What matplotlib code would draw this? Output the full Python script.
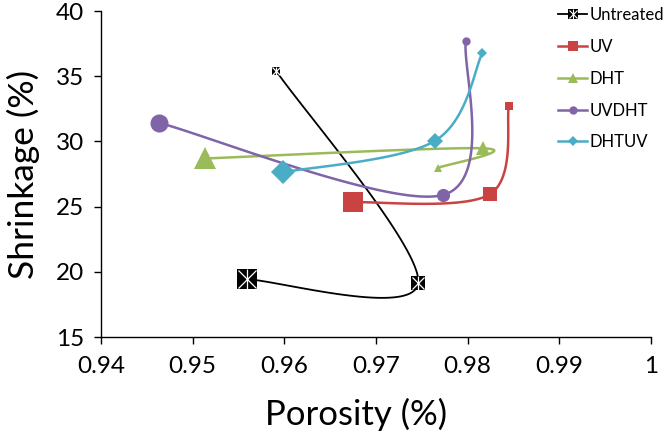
import numpy as np
import matplotlib
matplotlib.use("Agg")
import matplotlib.pyplot as plt
from matplotlib.lines import Line2D
from matplotlib.legend_handler import HandlerTuple

plt.rcParams['font.family'] = ['Lato', 'DejaVu Sans']

series_names = ["Untreated", "UV", "DHT", "UVDHT", "DHTUV"]
untreated_x = [0.9559, 0.9746, 0.9591]
untreated_y = [19.43, 19.12, 35.42]
uv_x = [0.9675, 0.9824, 0.9845]
uv_y = [25.33, 25.94, 32.71]
dht_x = [0.9513, 0.9817, 0.9768]
dht_y = [28.69, 29.47, 27.98]
uvdht_x = [0.9463, 0.9773, 0.9798]
uvdht_y = [31.43, 25.89, 37.68]
dhtuv_x = [0.9599, 0.9764, 0.9816]
dhtuv_y = [27.63, 30.03, 36.76]

xticks = [0.94, 0.95, 0.96, 0.97, 0.98, 0.99, 1.0]
xtick_labels = ["0.94", "0.95", "0.96", "0.97", "0.98", "0.99", "1"]
yticks = [15, 20, 25, 30, 35, 40]

colors = ["#000000", "#C94342", "#9BBB59", "#8064A8", "#4BACC6"]
markers = ["s", "s", "^", "o", "D"]
sizes = {
    "s": [14.5, 10.0, 6.3],
    "^": [15.5, 10.0, 6.0],
    "o": [13.0, 9.5, 6.0],
    "D": [12.0, 8.5, 5.0],
}
lws = [1.3, 1.8, 1.8, 1.8, 1.8]


def smooth(xs, ys, n=60):
    P = np.column_stack([xs, ys]).astype(float)
    out = []
    m = len(P)
    for i in range(m - 1):
        p0 = P[i]
        p3 = P[i + 1]
        prev = P[i - 1] if i > 0 else P[i]
        nxt = P[i + 2] if i + 2 < m else P[i + 1]
        c1 = p0 + (p3 - prev) / 6.0
        c2 = p3 - (nxt - p0) / 6.0
        t = np.linspace(0, 1, n)[:, None]
        seg = ((1 - t) ** 3) * p0 + 3 * ((1 - t) ** 2) * t * c1 + 3 * (1 - t) * t ** 2 * c2 + t ** 3 * p3
        if i > 0:
            seg = seg[1:]
        out.append(seg)
    out = np.vstack(out)
    return out[:, 0], out[:, 1]


fig = plt.figure(figsize=(6.66, 4.33), dpi=100)
ax = fig.add_axes([101 / 666, 1 - 337 / 433, 550 / 666, 326 / 433])

data = [(untreated_x, untreated_y), (uv_x, uv_y), (dht_x, dht_y),
        (uvdht_x, uvdht_y), (dhtuv_x, dhtuv_y)]

handles = []
for k, (xs, ys) in enumerate(data):
    c = colors[k]
    mk = markers[k]
    sx, sy = smooth(xs, ys)
    ax.plot(sx, sy, color=c, lw=lws[k], zorder=2 + k * 2, solid_capstyle='round')
    for j in range(len(xs)):
        ms = sizes[mk][j]
        ax.plot([xs[j]], [ys[j]], marker=mk, ms=ms, color=c, mec=c, mew=0,
                ls='none', zorder=3 + k * 2)
        if k == 0:
            ax.plot([xs[j]], [ys[j]], marker='x', ms=ms * 0.85, color='white',
                    mew=0.9, ls='none', zorder=3 + k * 2)
            ax.plot([xs[j]], [ys[j]], marker='|', ms=ms * 0.95, color='white',
                    mew=0.9, ls='none', zorder=3 + k * 2)
    if k == 0:
        h1 = Line2D([], [], color=c, lw=lws[k], marker='s', ms=7, mew=0)
        h2 = Line2D([], [], color='white', lw=0, marker='x', ms=6, mew=0.8)
        h3 = Line2D([], [], color='white', lw=0, marker='|', ms=6.5, mew=0.8)
        handles.append((h1, h2, h3))
    else:
        lm = {"s": 7, "^": 7, "o": 6, "D": 5.5}[mk]
        handles.append(Line2D([], [], color=c, lw=lws[k], marker=mk, ms=lm, mew=0))

ax.set_xlim(0.94, 1.0)
ax.set_ylim(15, 40)
ax.set_xticks(xticks)
ax.set_xticklabels(xtick_labels)
ax.set_yticks(yticks)
ax.spines['top'].set_visible(False)
ax.spines['right'].set_visible(False)
ax.spines['left'].set_linewidth(1.0)
ax.spines['bottom'].set_linewidth(1.0)
ax.tick_params(direction='out', length=5, width=1.0, labelsize=17.5)
ax.tick_params(axis='x', pad=9)
ax.tick_params(axis='y', pad=7)
ax.set_xlabel("Porosity (%)", fontsize=25)
ax.set_ylabel("Shrinkage (%)", fontsize=25.5)
ax.xaxis.set_label_coords(0.464, -0.188)
ax.yaxis.set_label_coords(-0.111, 0.5)

leg = fig.legend(handles, series_names, loc='upper left',
                 bbox_to_anchor=(558 / 666, 1 - 7 / 433),
                 frameon=False, fontsize=12, handlelength=1.75, handletextpad=0.15,
                 labelspacing=0.95, borderaxespad=0, borderpad=0,
                 handler_map={tuple: HandlerTuple(ndivide=1, pad=0)})

fig.savefig("out.png", dpi=100)
